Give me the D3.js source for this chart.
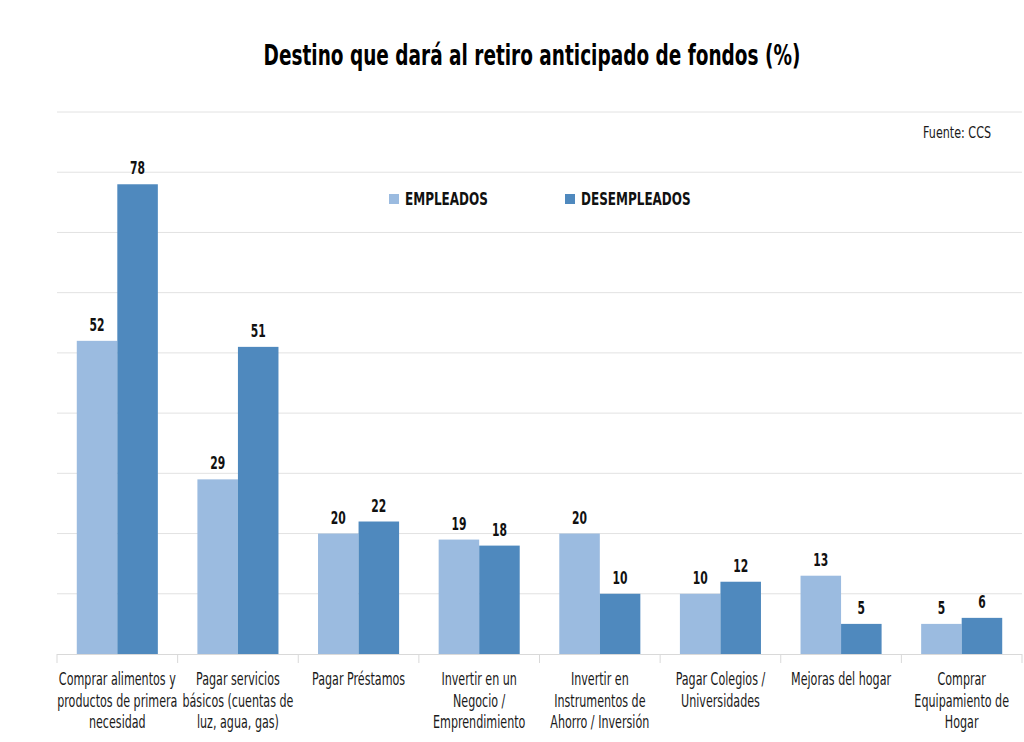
<!DOCTYPE html>
<html><head><meta charset="utf-8">
<script src="https://cdn.jsdelivr.net/npm/d3@7"></script>
<style>
html,body{margin:0;padding:0;background:#fff;}
svg text{font-family:"DejaVu Sans Condensed","DejaVu Sans",sans-serif;}
</style></head>
<body>
<svg id="chart" width="1024" height="742"></svg>
<script>
const categories = [
  ["Comprar alimentos y","productos de primera","necesidad"],
  ["Pagar servicios","básicos (cuentas de","luz, agua, gas)"],
  ["Pagar Préstamos"],
  ["Invertir en un","Negocio /","Emprendimiento"],
  ["Invertir en","Instrumentos de","Ahorro / Inversión"],
  ["Pagar Colegios /","Universidades"],
  ["Mejoras del hogar"],
  ["Comprar","Equipamiento de","Hogar"]
];
const seriesNames = ["EMPLEADOS","DESEMPLEADOS"];
const empleados = [52,29,20,19,20,10,13,5];
const desempleados = [78,51,22,18,10,12,5,6];
const yTicks = [0,10,20,30,40,50,60,70,80,90];
const colors = ["#9bbbe0","#4f89be"];

(function(){
const svg = d3.select("#chart");
const pL=57, pR=1022, pT=112, pB=654;
const idx = d3.range(categories.length);
const x0 = d3.scaleBand().domain(idx).range([pL,pR]).paddingInner(0.328).paddingOuter(0.164);
const x1 = d3.scaleBand().domain([0,1]).range([0,x0.bandwidth()]);
const y = d3.scaleLinear().domain([0,90]).range([pB,pT]);

function ctext(x, yy, k){
  return svg.append("g").attr("transform",`translate(${x},${yy}) scale(${k},1)`).append("text");
}
function measure(str, size, weight){
  const t = svg.append("text").attr("font-size",size).attr("font-weight",weight).text(str);
  const w = t.node().getComputedTextLength(); t.remove(); return w;
}
const kTitle = 537/measure("Destino que dará al retiro anticipado de fondos (%)",29,"bold");
const kLab = 117/measure("Comprar alimentos y",18,"normal");
const kVal = 15/measure("78",17,"bold");
const kLeg = 83/measure("EMPLEADOS",17,"bold");
const kSrc = 68/measure("Fuente: CCS",16,"normal");

// gridlines
svg.append("g").selectAll("line").data(yTicks.slice(1)).join("line")
  .attr("x1",pL).attr("x2",pR).attr("y1",d=>y(d)).attr("y2",d=>y(d))
  .attr("stroke","#e2e2e2").attr("stroke-width",1);

// bars
const data = [empleados, desempleados];
idx.forEach(i=>{
  [0,1].forEach(s=>{
    const v = data[s][i];
    svg.append("rect").attr("x",x0(i)+x1(s)).attr("width",x1.bandwidth())
      .attr("y",y(v)).attr("height",y(0)-y(v)).attr("fill",colors[s]);
    ctext(x0(i)+x1(s)+x1.bandwidth()/2, y(v)-10, kVal)
      .attr("text-anchor","middle").attr("font-size",17).attr("font-weight","bold")
      .attr("fill","#111").text(v);
  });
});

// x axis
const step = x0.step();
const bounds = d3.range(categories.length+1).map(i=>pL+i*step);
svg.append("line").attr("x1",pL).attr("x2",pR).attr("y1",pB+0.5).attr("y2",pB+0.5)
  .attr("stroke","#d9d9d9");
svg.append("g").selectAll("line").data(bounds).join("line")
  .attr("x1",d=>d).attr("x2",d=>d).attr("y1",pB).attr("y2",pB+9).attr("stroke","#d9d9d9");
idx.forEach(i=>{
  const t = ctext(x0(i)+x0.bandwidth()/2, 685, kLab)
    .attr("text-anchor","middle").attr("font-size",18).attr("fill","#1a1a1a");
  categories[i].forEach((ln,k)=>{
    t.append("tspan").attr("x",0).attr("dy",k===0?0:21.7).text(ln);
  });
});

// title
ctext(532, 65, kTitle).attr("text-anchor","middle")
  .attr("font-size",29).attr("font-weight","bold").attr("fill","#000")
  .text("Destino que dará al retiro anticipado de fondos (%)");

// source
ctext(991, 138, kSrc).attr("text-anchor","end")
  .attr("font-size",16).attr("fill","#1a1a1a").text("Fuente: CCS");

// legend
const legX = [389,565];
seriesNames.forEach((n,s)=>{
  svg.append("rect").attr("x",legX[s]).attr("y",194).attr("width",10).attr("height",10).attr("fill",colors[s]);
  ctext(legX[s]+16, 205, kLeg).attr("font-size",17).attr("font-weight","bold")
    .attr("fill","#111").text(n);
});
})();
</script>
</body></html>
